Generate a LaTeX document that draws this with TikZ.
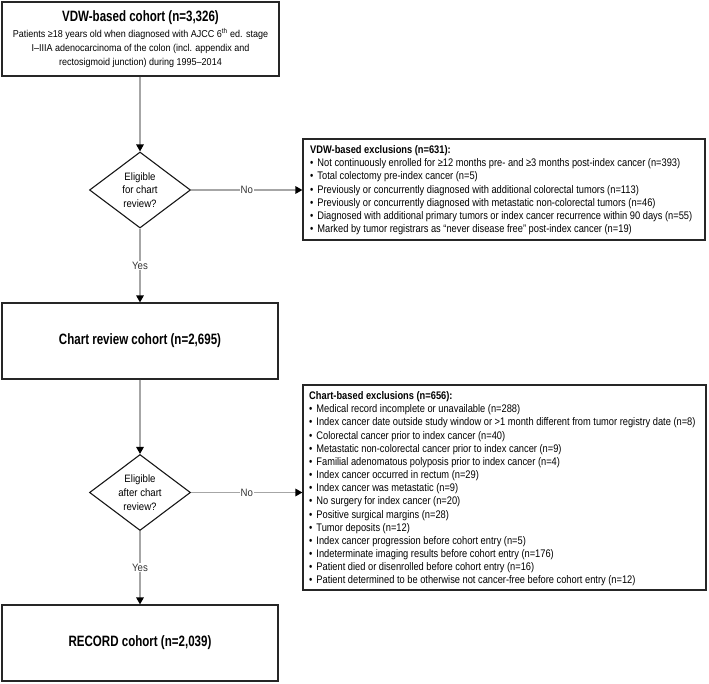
\documentclass[tikz,border=0pt]{standalone}
\usepackage{fontspec}
\setmainfont{Liberation Sans}[FakeStretch=0.9]
\newfontfamily\narrowsans{Liberation Sans}[FakeStretch=0.77]
\newfontfamily\listsans{Liberation Sans}[FakeStretch=0.845]
\usetikzlibrary{shapes.geometric,arrows.meta}
\begin{document}
\begin{tikzpicture}[x=1pt,y=-1pt,
  every node/.style={font=\fontsize{10.7}{13.8}\selectfont},
  cbox/.style={draw=black!85,line width=1.2pt,rectangle,inner sep=0pt,align=center},
  dbox/.style={draw=black!90,line width=1.1pt,diamond,inner sep=0pt,minimum width=101pt,minimum height=76pt},
  conn/.style={draw=black!35,line width=1.4pt,-{Triangle[color=black,length=7pt,width=7.5pt]}},
  lab/.style={fill=white,inner sep=1pt,text=black!80},
  ttl/.style={font=\narrowsans\fontsize{15}{17}\selectfont\bfseries},
  listtext/.style={anchor=north west,align=left,inner sep=0pt,font=\listsans\fontsize{11}{13.15}\selectfont}
]
\useasboundingbox (0,0) rectangle (709,684);
\fill[white] (0,0) rectangle (709,684);

\node[cbox,minimum width=277pt,minimum height=74pt] (top) at (140.5,39) {};
\node[ttl] (toptitle) at (140.5,17.5) {VDW-based cohort (n=3,326)};
\node[align=center,anchor=north,inner sep=0pt,font=\fontsize{10}{14}\selectfont] (toptext) at (140.5,28.5) {Patients ≥18 years old when diagnosed with AJCC 6\textsuperscript{th} ed. stage\\I–IIIA adenocarcinoma of the colon (incl. appendix and\\rectosigmoid junction) during 1995–2014};

\node[dbox,label={[align=center,font=\fontsize{10.7}{13.8}\selectfont]center:Eligible\\for chart\\review?}] (d1) at (140,190) {};

\node[cbox,minimum width=402pt,minimum height=101pt] (vexc) at (504,189.5) {};
\node[listtext] (vexctext) at (310,145.5) {\textbf{VDW-based exclusions (n=631):}\\
\textbullet\hspace{4pt}Not continuously enrolled for ≥12 months pre- and ≥3 months post-index cancer (n=393)\\
\textbullet\hspace{4pt}Total colectomy pre-index cancer (n=5)\\
\textbullet\hspace{4pt}Previously or concurrently diagnosed with additional colorectal tumors (n=113)\\
\textbullet\hspace{4pt}Previously or concurrently diagnosed with metastatic non-colorectal tumors (n=46)\\
\textbullet\hspace{4pt}Diagnosed with additional primary tumors or index cancer recurrence within 90 days (n=55)\\
\textbullet\hspace{4pt}Marked by tumor registrars as “never disease free” post-index cancer (n=19)};

\node[cbox,minimum width=276pt,minimum height=76pt,ttl] (cr) at (140,341) {Chart review cohort (n=2,695)};

\node[dbox,label={[align=center,font=\fontsize{10.7}{13.8}\selectfont]center:Eligible\\after chart\\review?}] (d2) at (140,492.5) {};

\node[cbox,minimum width=403pt,minimum height=205pt] (cexc) at (504.5,487.5) {};
\node[listtext] (cexctext) at (309,391.5) {\textbf{Chart-based exclusions (n=656):}\\
\textbullet\hspace{4pt}Medical record incomplete or unavailable (n=288)\\
\textbullet\hspace{4pt}Index cancer date outside study window or >1 month different from tumor registry date (n=8)\\
\textbullet\hspace{4pt}Colorectal cancer prior to index cancer (n=40)\\
\textbullet\hspace{4pt}Metastatic non-colorectal cancer prior to index cancer (n=9)\\
\textbullet\hspace{4pt}Familial adenomatous polyposis prior to index cancer (n=4)\\
\textbullet\hspace{4pt}Index cancer occurred in rectum (n=29)\\
\textbullet\hspace{4pt}Index cancer was metastatic (n=9)\\
\textbullet\hspace{4pt}No surgery for index cancer (n=20)\\
\textbullet\hspace{4pt}Positive surgical margins (n=28)\\
\textbullet\hspace{4pt}Tumor deposits (n=12)\\
\textbullet\hspace{4pt}Index cancer progression before cohort entry (n=5)\\
\textbullet\hspace{4pt}Indeterminate imaging results before cohort entry (n=176)\\
\textbullet\hspace{4pt}Patient died or disenrolled before cohort entry (n=16)\\
\textbullet\hspace{4pt}Patient determined to be otherwise not cancer-free before cohort entry (n=12)};

\node[cbox,minimum width=276pt,minimum height=76pt,ttl] (rec) at (140,643) {RECORD cohort (n=2,039)};

\draw[conn] (top.south -| d1.north) -- (d1.north);
\draw[conn] (d1.east) -- node[lab] (no1) {No} (d1.east -| vexc.west);
\draw[conn] (d1.south) -- node[lab] (yes1) {Yes} (cr.north);
\draw[conn] (cr.south) -- (d2.north);
\draw[conn] (d2.east) -- node[lab] (no2) {No} (d2.east -| cexc.west);
\draw[conn] (d2.south) -- node[lab] (yes2) {Yes} (rec.north);
\end{tikzpicture}
\end{document}
